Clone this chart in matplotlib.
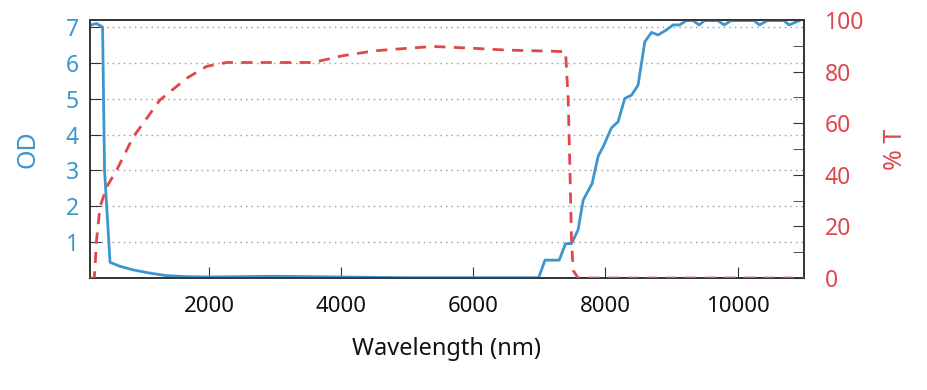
import numpy as np
import matplotlib.pyplot as plt
from matplotlib.ticker import MultipleLocator

## OD curve (left axis)
od_wl = [200, 300, 390, 420, 503, 650, 850, 1100, 1350, 1650, 2000, 2500, 3000, 3500, 4000,
         4500, 5000, 6000, 6990, 7085, 7300, 7397, 7487, 7587, 7663, 7723, 7799, 7890, 7965,
         8092, 8192, 8293, 8394, 8494, 8596, 8697, 8797, 8923, 9024, 9124, 9225, 9326, 9420,
         9500, 9700, 9800, 9900, 10100, 10250, 10330, 10450, 10700, 10780, 10935]
od_val = [7.05, 7.1, 7.0, 3.0, 0.44, 0.33, 0.23, 0.14, 0.07, 0.04, 0.03, 0.04, 0.05, 0.04, 0.03,
          0.02, 0.01, 0.01, 0.01, 0.5, 0.5, 0.96, 0.96, 1.35, 2.17, 2.38, 2.64, 3.40, 3.66,
          4.19, 4.36, 5.01, 5.10, 5.38, 6.59, 6.85, 6.78, 6.92, 7.06, 7.06, 7.18, 7.18, 7.06,
          7.18, 7.18, 7.06, 7.18, 7.18, 7.18, 7.06, 7.18, 7.18, 7.06, 7.18]

## transmission curve (right axis)
t_wl = [200, 265, 300, 351, 452, 603, 855, 1259, 1663, 1965, 2267, 2800, 3578, 4000, 4500,
        5000, 5400, 6000, 6500, 7000, 7397, 7437, 7462, 7487, 7512, 7587, 8000, 9000, 10000, 11000]
t_val = [0, 0, 15, 27.5, 35.3, 41.8, 54.7, 69, 77.4, 82, 83.5, 83.5, 83.5, 86, 88,
         89, 89.7, 89, 88.3, 88, 87.7, 69, 43, 14.6, 3, 0, 0, 0, 0, 0]

od_ticks = [1, 2, 3, 4, 5, 6, 7]
x_ticks = [2000, 4000, 6000, 8000, 10000]

blue = "#3d95cf"
red = "#e0474c"

plt.rcParams['font.family'] = ['Noto Sans', 'DejaVu Sans']

fig = plt.figure(figsize=(9.28, 3.9), dpi=100)
ax1 = fig.add_axes([0.097, 0.287, 0.769, 0.662])
ax2 = ax1.twinx()

ax1.plot(od_wl, od_val, color=blue, linewidth=2, zorder=3)
ax2.plot(t_wl, t_val, color=red, linewidth=2, linestyle=(0, (4, 3)), zorder=3)

ax1.set_xlim(200, 11000)
ax1.set_ylim(0, 7.2)
ax2.set_ylim(0, 100)

ax1.set_yticks(od_ticks)
ax1.set_xticks(x_ticks)
ax2.set_yticks([0, 20, 40, 60, 80, 100])
ax2.yaxis.set_minor_locator(MultipleLocator(10))

ax1.grid(axis='y', linestyle=(0, (1, 3)), color='#999999', linewidth=1)
ax1.set_axisbelow(True)

ax1.tick_params(axis='y', direction='in', length=8, pad=8, colors='#333333', labelcolor=blue, labelsize=16.5)
ax1.tick_params(axis='x', direction='in', length=8, pad=13, colors='#333333', labelcolor='#111111', labelsize=16)
ax2.tick_params(axis='y', which='both', direction='in', length=8, pad=15, colors='#333333', labelcolor=red, labelsize=16.5)

for ax in (ax1, ax2):
    for sp in ax.spines.values():
        sp.set_color('#333333')
        sp.set_linewidth(1.2)

ax1.set_xlabel("Wavelength (nm)", fontsize=17, labelpad=14, color='#111111')
ax1.set_ylabel("OD", fontsize=18, color=blue, labelpad=18)
ax2.set_ylabel("% T", fontsize=18, color=red, labelpad=14)

fig.savefig("out.png", dpi=100)
